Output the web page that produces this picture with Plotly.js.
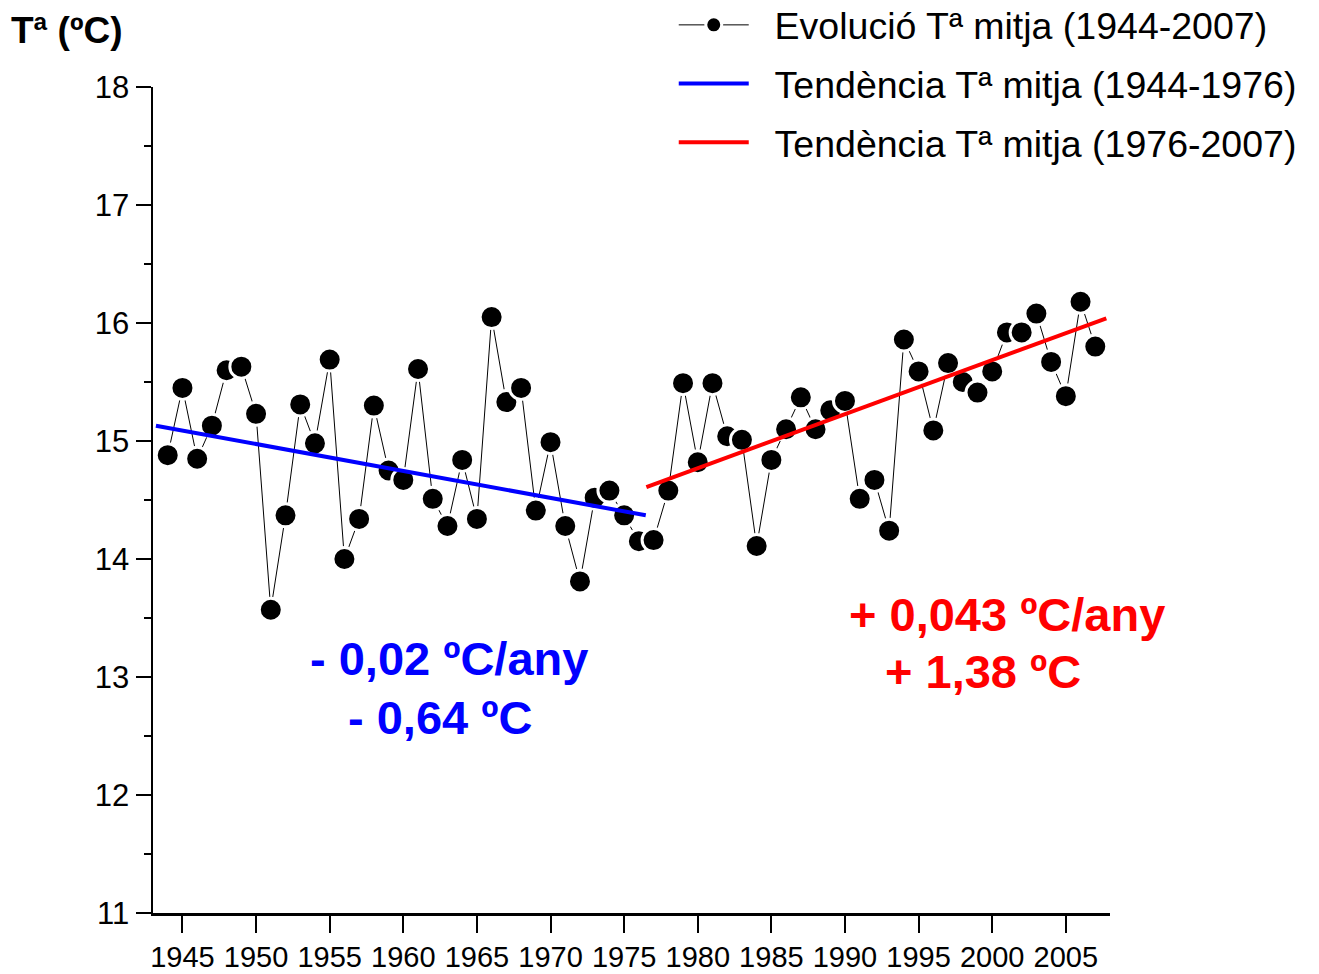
<!DOCTYPE html>
<html>
<head>
<meta charset="utf-8">
<script src="https://cdn.plot.ly/plotly-3.0.1.min.js"></script>
<style>
  html, body { margin: 0; padding: 0; background: #fff; }
  #chart { width: 1319px; height: 974px; }
</style>
</head>
<body>
<div id="chart"></div>
<script>
// Years and mean annual temperature (ºC)
const years = [
  1944, 1945, 1946, 1947, 1948, 1949, 1950, 1951, 1952, 1953,
  1954, 1955, 1956, 1957, 1958, 1959, 1960, 1961, 1962, 1963,
  1964, 1965, 1966, 1967, 1968, 1969, 1970, 1971, 1972, 1973,
  1974, 1975, 1976, 1977, 1978, 1979, 1980, 1981, 1982, 1983,
  1984, 1985, 1986, 1987, 1988, 1989, 1990, 1991, 1992, 1993,
  1994, 1995, 1996, 1997, 1998, 1999, 2000, 2001, 2002, 2003,
  2004, 2005, 2006, 2007
];
const tempMean = [
  14.88, 15.45, 14.85, 15.13, 15.60, 15.63, 15.23, 13.57, 14.37, 15.31,
  14.98, 15.69, 14.00, 14.34, 15.30, 14.75, 14.67, 15.61, 14.51, 14.28,
  14.84, 14.34, 16.05, 15.33, 15.45, 14.41, 14.99, 14.28, 13.81, 14.52,
  14.58, 14.37, 14.15, 14.16, 14.58, 15.49, 14.82, 15.49, 15.04, 15.01,
  14.11, 14.84, 15.10, 15.37, 15.10, 15.26, 15.34, 14.51, 14.67, 14.24,
  15.86, 15.59, 15.09, 15.66, 15.50, 15.41, 15.59, 15.92, 15.92, 16.08,
  15.67, 15.38, 16.18, 15.80
];
// Trend lines (end points)
const trend1X = [1943.2, 1976.47];
const trend1Y = [15.13, 14.37];
const trend2X = [1976.51, 2007.75];
const trend2Y = [14.61, 16.04];

const seriesNames = [
  'Evolució Tª mitja (1944-2007)',
  'Tendència Tª mitja (1944-1976)',
  'Tendència Tª mitja (1976-2007)'
];
const xTicks = [1945, 1950, 1955, 1960, 1965, 1970, 1975, 1980, 1985, 1990, 1995, 2000, 2005];
const yTicks = [11, 12, 13, 14, 15, 16, 17, 18];
const trendTexts = ['- 0,02 ºC/any', '- 0,64 ºC', '+ 0,043 ºC/any', '+ 1,38 ºC'];
const yTitle = 'Tª (ºC)';

const FONT = '"Liberation Sans", Arial, sans-serif';
const PAD = '\u00A0\u00A0';

const traces = [
  {
    x: years, y: tempMean, name: PAD + seriesNames[0], type: 'scatter', mode: 'lines+markers',
    legendgroup: 'a',
    line: { color: '#000', width: 1 },
    marker: { color: '#000', size: 23, line: { color: '#fff', width: 3 } }
  },
  {
    x: trend1X, y: trend1Y, name: PAD + seriesNames[1], type: 'scatter', mode: 'lines',
    legendgroup: 'b',
    line: { color: '#0000ff', width: 4 }
  },
  {
    x: trend2X, y: trend2Y, name: PAD + seriesNames[2], type: 'scatter', mode: 'lines',
    legendgroup: 'c',
    line: { color: '#ff0000', width: 4 }
  }
];

const layout = {
  width: 1319, height: 974,
  margin: { l: 153, r: 209, t: 87, b: 61, autoexpand: false },
  paper_bgcolor: '#fff', plot_bgcolor: '#fff',
  font: { family: FONT, color: '#000' },
  showlegend: true,
  legend: {
    xref: 'container', yref: 'paper',
    x: 0.5108, y: 1.1126, xanchor: 'left', yanchor: 'top',
    font: { family: FONT, size: 37.5, color: '#000' },
    itemwidth: 70, bgcolor: 'rgba(0,0,0,0)',
    traceorder: 'grouped', tracegroupgap: 7
  },
  xaxis: {
    range: [1943, 2008], tickvals: xTicks, ticktext: xTicks.map(String), tickangle: 0,
    showgrid: false, zeroline: false, showline: true, linecolor: '#000', linewidth: 2.5,
    ticks: 'outside', ticklen: 17, tickwidth: 2, tickcolor: '#000',
    tickfont: { family: FONT, size: 29, color: '#000' }
  },
  yaxis: {
    range: [11, 18], tickvals: yTicks, ticktext: yTicks.map(String),
    showgrid: false, zeroline: false, showline: true, linecolor: '#000', linewidth: 2.5,
    ticks: 'outside', ticklen: 15, tickwidth: 2, tickcolor: '#000',
    minor: { dtick: 0.5, ticks: 'outside', ticklen: 7, tickwidth: 2, tickcolor: '#000', showgrid: false },
    tickfont: { family: FONT, size: 31, color: '#000' }
  },
  annotations: [
    { xref: 'paper', yref: 'paper', x: -0.150, y: 1.068, xanchor: 'left', yanchor: 'middle',
      text: '<b>' + yTitle + '</b>', showarrow: false,
      font: { family: FONT, size: 37, color: '#000' } },
    { xref: 'x', yref: 'y', x: 1963.1, y: 13.16, text: '<b>' + trendTexts[0] + '</b>', showarrow: false,
      xanchor: 'center', yanchor: 'middle', font: { family: FONT, size: 47, color: '#0000ff' } },
    { xref: 'x', yref: 'y', x: 1962.5, y: 12.66, text: '<b>' + trendTexts[1] + '</b>', showarrow: false,
      xanchor: 'center', yanchor: 'middle', font: { family: FONT, size: 47, color: '#0000ff' } },
    { xref: 'x', yref: 'y', x: 2001.0, y: 13.53, text: '<b>' + trendTexts[2] + '</b>', showarrow: false,
      xanchor: 'center', yanchor: 'middle', font: { family: FONT, size: 47, color: '#ff0000' } },
    { xref: 'x', yref: 'y', x: 1999.4, y: 13.05, text: '<b>' + trendTexts[3] + '</b>', showarrow: false,
      xanchor: 'center', yanchor: 'middle', font: { family: FONT, size: 47, color: '#ff0000' } }
  ]
};

Plotly.newPlot('chart', traces, layout, { displayModeBar: false, staticPlot: true });
</script>
</body>
</html>
